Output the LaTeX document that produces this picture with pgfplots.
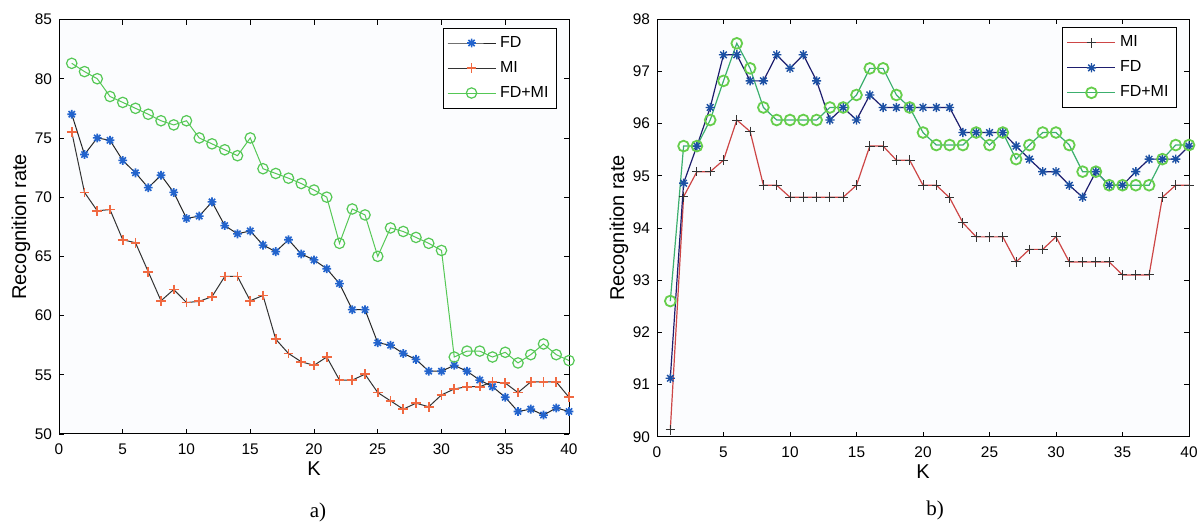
\documentclass[border=0pt]{standalone}
\usepackage{fontspec}
\setmainfont{Liberation Sans}
\newfontfamily\capfont{Liberation Serif}
\usepackage{pgfplots}
\pgfplotsset{compat=1.18}

\definecolor{fdblue}{RGB}{35,100,205}
\definecolor{fdnavy}{RGB}{30,30,110}
\definecolor{miorange}{RGB}{240,105,65}
\definecolor{mired}{RGB}{205,70,70}
\definecolor{fmgreen}{RGB}{85,200,85}
\definecolor{fmteal}{RGB}{60,175,110}
\definecolor{plotbg}{RGB}{251,252,254}

% matlab style '*' : plus and cross together
\pgfdeclareplotmark{mstar}{%
  \pgfpathmoveto{\pgfpoint{-\pgfplotmarksize}{0pt}}\pgfpathlineto{\pgfpoint{\pgfplotmarksize}{0pt}}%
  \pgfpathmoveto{\pgfpoint{0pt}{-\pgfplotmarksize}}\pgfpathlineto{\pgfpoint{0pt}{\pgfplotmarksize}}%
  \pgfpathmoveto{\pgfpoint{-0.71\pgfplotmarksize}{-0.71\pgfplotmarksize}}\pgfpathlineto{\pgfpoint{0.71\pgfplotmarksize}{0.71\pgfplotmarksize}}%
  \pgfpathmoveto{\pgfpoint{-0.71\pgfplotmarksize}{0.71\pgfplotmarksize}}\pgfpathlineto{\pgfpoint{0.71\pgfplotmarksize}{-0.71\pgfplotmarksize}}%
  \pgfusepathqstroke}

\pgfplotsset{
  mlab/.style={
    scale only axis,
    anchor=south west,
    axis background/.style={fill=plotbg},
    xmin=0, xmax=40, xtick={0,5,...,40},
    tick align=inside, major tick length=2.5pt,
    axis line style={line width=0.5pt},
    every tick/.style={black, line width=0.4pt},
    /pgf/number format/assume math mode=true,
    tick label style={font=\fontsize{7.7}{9}\selectfont},
    xticklabel style={yshift=-1.5pt},
    xlabel={K}, ylabel={Recognition rate},
    label style={font=\fontsize{7.7}{9}\selectfont},
    every axis x label/.style={at={(axis description cs:0.5,0)}, yshift=-17.5pt, anchor=center},
    every axis y label/.style={at={(axis description cs:0,0.5)}, xshift=-19pt, rotate=90, anchor=center},
    legend cell align=left,
    legend style={draw=black, fill=white, line width=0.5pt,
      at={(rel axis cs:1,1)}, xshift=-6pt, yshift=-4pt, anchor=north east,
      font=\fontsize{8}{9}\selectfont, row sep=1.5pt, inner sep=2pt},
    legend image code/.code={\draw[mark repeat=2,mark phase=2] plot coordinates {(0pt,0pt)(12pt,0pt)(24pt,0pt)};},
  }
}

\begin{document}
\begin{tikzpicture}
\path[use as bounding box] (0,0) rectangle (600.5pt,262.5pt);

% ---- a) ----
\begin{axis}[mlab,
    at={(29.5pt,45.5pt)}, width=255pt, height=207.25pt,
    ymin=50, ymax=85, ytick={50,55,...,85}]
  \addplot [black!85, line width=0.5pt, mark=mstar, mark size=2.2pt,
            mark options={fdblue, line width=0.8pt}] coordinates {
    (1,77.0) (2,73.6) (3,75.0) (4,74.8) (5,73.1) (6,72.05) (7,70.8) (8,71.85)
    (9,70.4) (10,68.2) (11,68.4) (12,69.6) (13,67.6) (14,66.9) (15,67.15) (16,65.95)
    (17,65.4) (18,66.4) (19,65.2) (20,64.7) (21,63.95) (22,62.7) (23,60.5) (24,60.5)
    (25,57.7) (26,57.5) (27,56.8) (28,56.3) (29,55.3) (30,55.3) (31,55.8) (32,55.3)
    (33,54.55) (34,54.0) (35,53.1) (36,51.9) (37,52.1) (38,51.6) (39,52.2) (40,51.9)
  };
  \addlegendentry{FD}
  \addplot [black!80, line width=0.5pt, mark=+, mark size=2.4pt,
            mark options={miorange, line width=0.9pt}] coordinates {
    (1,75.5) (2,70.4) (3,68.85) (4,68.95) (5,66.4) (6,66.15) (7,63.7) (8,61.25)
    (9,62.2) (10,61.1) (11,61.2) (12,61.6) (13,63.3) (14,63.3) (15,61.25) (16,61.7)
    (17,58.0) (18,56.8) (19,56.1) (20,55.8) (21,56.5) (22,54.55) (23,54.55) (24,55.05)
    (25,53.5) (26,52.8) (27,52.1) (28,52.6) (29,52.3) (30,53.3) (31,53.8) (32,54.0)
    (33,54.0) (34,54.4) (35,54.3) (36,53.5) (37,54.4) (38,54.4) (39,54.4) (40,53.1)
  };
  \addlegendentry{MI}
  \addplot [fmgreen, line width=0.5pt, mark=o, mark size=2.6pt,
            mark options={fmgreen, line width=0.6pt}] coordinates {
    (1,81.3) (2,80.6) (3,80.0) (4,78.5) (5,78.0) (6,77.5) (7,77.0) (8,76.45)
    (9,76.1) (10,76.45) (11,75.0) (12,74.5) (13,74.0) (14,73.5) (15,75.0) (16,72.4)
    (17,72.0) (18,71.6) (19,71.15) (20,70.6) (21,70.0) (22,66.1) (23,69.0) (24,68.5)
    (25,65.0) (26,67.4) (27,67.1) (28,66.6) (29,66.1) (30,65.5) (31,56.5) (32,57.0)
    (33,57.0) (34,56.5) (35,56.9) (36,56.0) (37,56.7) (38,57.6) (39,56.7) (40,56.2)
  };
  \addlegendentry{FD+MI}
\end{axis}

% ---- b) ----
\begin{axis}[mlab,
    at={(328.5pt,44.15pt)}, width=266pt, height=208.7pt,
    ymin=90, ymax=98, ytick={90,91,...,98}]
  \addplot [mired, line width=0.6pt, mark=+, mark size=2.4pt,
            mark options={black!80, line width=0.5pt}] coordinates {
    (1,90.13) (2,94.6) (3,95.08) (4,95.08) (5,95.3) (6,96.07) (7,95.85) (8,94.82)
    (9,94.82) (10,94.59) (11,94.59) (12,94.59) (13,94.59) (14,94.59) (15,94.82) (16,95.57)
    (17,95.57) (18,95.3) (19,95.3) (20,94.82) (21,94.82) (22,94.58) (23,94.1) (24,93.83)
    (25,93.83) (26,93.83) (27,93.35) (28,93.59) (29,93.59) (30,93.83) (31,93.35) (32,93.35)
    (33,93.35) (34,93.35) (35,93.1) (36,93.1) (37,93.1) (38,94.59) (39,94.82) (40,94.82)
  };
  \addlegendentry{MI}
  \addplot [fdnavy, line width=0.6pt, mark=mstar, mark size=2.3pt,
            mark options={fdblue!80!black, line width=0.7pt}] coordinates {
    (1,91.12) (2,94.86) (3,95.57) (4,96.31) (5,97.32) (6,97.32) (7,96.82) (8,96.82)
    (9,97.32) (10,97.06) (11,97.32) (12,96.82) (13,96.07) (14,96.31) (15,96.07) (16,96.55)
    (17,96.31) (18,96.31) (19,96.31) (20,96.31) (21,96.31) (22,96.31) (23,95.83) (24,95.83)
    (25,95.83) (26,95.83) (27,95.57) (28,95.32) (29,95.08) (30,95.08) (31,94.82) (32,94.59)
    (33,95.08) (34,94.82) (35,94.82) (36,95.08) (37,95.32) (38,95.32) (39,95.32) (40,95.57)
  };
  \addlegendentry{FD}
  \addplot [fmteal, line width=0.6pt, mark=o, mark size=2.7pt,
            mark options={fmgreen!90!yellow, line width=0.9pt}] coordinates {
    (1,92.6) (2,95.57) (3,95.57) (4,96.07) (5,96.82) (6,97.54) (7,97.06) (8,96.31)
    (9,96.07) (10,96.07) (11,96.07) (12,96.07) (13,96.31) (14,96.31) (15,96.55) (16,97.06)
    (17,97.06) (18,96.55) (19,96.31) (20,95.83) (21,95.59) (22,95.59) (23,95.59) (24,95.83)
    (25,95.59) (26,95.83) (27,95.32) (28,95.59) (29,95.83) (30,95.83) (31,95.59) (32,95.08)
    (33,95.08) (34,94.82) (35,94.82) (36,94.82) (37,94.82) (38,95.32) (39,95.59) (40,95.59)
  };
  \addlegendentry{FD+MI}
\end{axis}

\node[font=\capfont\fontsize{10.5}{12}\selectfont] at (159pt,6.5pt) {a)};
\node[font=\capfont\fontsize{10.5}{12}\selectfont] at (467.5pt,7.5pt) {b)};
\end{tikzpicture}
\end{document}
